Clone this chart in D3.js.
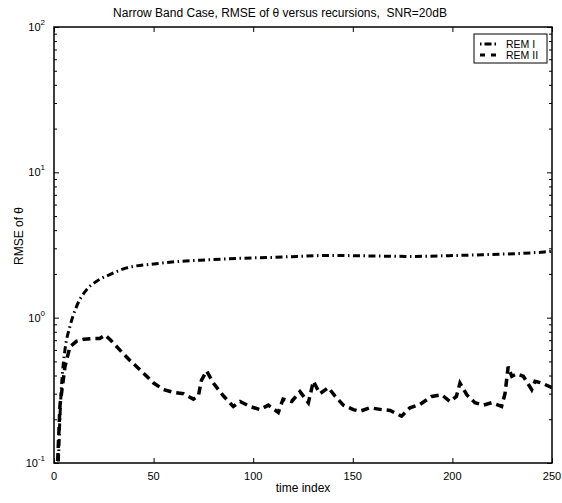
<!DOCTYPE html>
<html>
<head>
<meta charset="utf-8">
<script src="https://cdn.jsdelivr.net/npm/d3@7"></script>
<style>
  body { margin: 0; background: #fff; }
  svg { font-family: "Liberation Sans", Arial, sans-serif; }
</style>
</head>
<body>
<svg id="chart" width="562" height="503"></svg>
<script>
// series data
const remOneX = [1, 2.2, 3, 3.9, 5.5, 8, 11.4, 16.4, 21.4, 28, 36.5, 50, 63, 77, 93, 110, 122, 138, 158, 179, 198, 215, 232, 246, 250];
const remOneY = [0.03, 0.1, 0.21, 0.36, 0.6, 0.87, 1.2, 1.56, 1.78, 1.98, 2.2, 2.34, 2.44, 2.5, 2.56, 2.6, 2.64, 2.68, 2.66, 2.64, 2.67, 2.71, 2.76, 2.83, 2.86];

const remTwoX = [1, 1.8, 3, 5.5, 8, 11.4, 15, 19.7, 23, 25.6, 28, 33, 38, 43, 50, 55, 60, 65, 70, 72.5, 74, 76.6, 80, 85, 90, 93.4, 98.4, 103.4, 107.6, 112.6, 115, 119.3, 123.5, 127.7, 130.2, 133.5, 137.7, 141, 145.2, 150.3, 153.6, 158.6, 164.5, 168.7, 174.5, 178.7, 183.7, 189.6, 194.6, 198.8, 202, 203.8, 207.2, 211.3, 215.5, 219.7, 224.7, 226.4, 228, 229.8, 232.3, 235.6, 239.8, 241.5, 244.8, 250];
const remTwoY = [0.03, 0.1, 0.25, 0.46, 0.63, 0.69, 0.71, 0.72, 0.72, 0.76, 0.71, 0.6, 0.51, 0.44, 0.355, 0.32, 0.306, 0.3, 0.275, 0.29, 0.37, 0.43, 0.355, 0.29, 0.245, 0.265, 0.245, 0.233, 0.25, 0.223, 0.275, 0.265, 0.31, 0.26, 0.365, 0.3, 0.33, 0.29, 0.25, 0.233, 0.227, 0.24, 0.233, 0.23, 0.21, 0.24, 0.253, 0.287, 0.295, 0.265, 0.287, 0.355, 0.295, 0.26, 0.25, 0.26, 0.245, 0.3, 0.46, 0.395, 0.41, 0.395, 0.32, 0.365, 0.355, 0.33];

const seriesNames = ["REM I", "REM II"];
const xTicks = [0, 50, 100, 150, 200, 250];
const yDecades = [0.1, 1, 10, 100];
const yExponents = ["-1", "0", "1", "2"];

const svg = d3.select("#chart");
const margin = {left: 54, right: 10, top: 27, bottom: 40};
const width = 562 - margin.left - margin.right;
const height = 503 - margin.top - margin.bottom;

const x = d3.scaleLinear().domain([0, 250]).range([0, width]);
const y = d3.scaleLog().domain([0.1, 100]).range([height, 0]);

const g = svg.append("g").attr("transform", `translate(${margin.left},${margin.top})`);

svg.append("defs").append("clipPath").attr("id", "plotClip")
    .append("rect").attr("width", width).attr("height", height);

// minor ticks for the log axis
const minorTicks = [];
[0.1, 1, 10].forEach(d => {
    for (let k = 2; k <= 9; k++) minorTicks.push(d * k);
});

// frame ticks, pointing inward (matlab style)
g.append("g").call(d3.axisLeft(y).tickValues(yDecades).tickSize(-5).tickFormat(""));
g.append("g").attr("transform", `translate(${width},0)`)
    .call(d3.axisRight(y).tickValues(yDecades).tickSize(-5).tickFormat(""));
g.append("g").call(d3.axisLeft(y).tickValues(minorTicks).tickSize(-3).tickFormat(""));
g.append("g").attr("transform", `translate(${width},0)`)
    .call(d3.axisRight(y).tickValues(minorTicks).tickSize(-3).tickFormat(""));
g.append("g").attr("transform", `translate(0,${height})`)
    .call(d3.axisBottom(x).tickValues(xTicks).tickSize(-5).tickFormat(""));
g.append("g").call(d3.axisTop(x).tickValues(xTicks).tickSize(-5).tickFormat(""));
g.selectAll(".domain").remove();
g.selectAll(".tick line").attr("stroke", "#000").attr("stroke-width", 1);

g.append("rect")
    .attr("width", width)
    .attr("height", height)
    .attr("fill", "none")
    .attr("stroke", "#000")
    .attr("stroke-width", 1.5);

// tick labels
g.selectAll(".xlab")
    .data(xTicks)
    .join("text")
    .attr("x", d => x(d))
    .attr("y", height + 17)
    .attr("text-anchor", "middle")
    .attr("font-size", 11)
    .text(d => d);

const ylab = g.selectAll(".ylab")
    .data(yDecades)
    .join("text")
    .attr("x", -9)
    .attr("y", d => y(d) + 4)
    .attr("text-anchor", "end")
    .attr("font-size", 11);
ylab.append("tspan").text("10");
ylab.append("tspan")
    .attr("font-size", 8)
    .attr("dy", -6)
    .text((d, i) => yExponents[i]);

// lines
const line = d3.line().x(d => x(d[0])).y(d => y(d[1]));
const plot = g.append("g").attr("clip-path", "url(#plotClip)");

plot.append("path")
    .datum(d3.zip(remOneX, remOneY))
    .attr("d", line.curve(d3.curveMonotoneX))
    .attr("fill", "none")
    .attr("stroke", "#000")
    .attr("stroke-width", 3)
    .attr("stroke-dasharray", "7,3.5,1.5,3.5");

plot.append("path")
    .datum(d3.zip(remTwoX, remTwoY))
    .attr("d", line.curve(d3.curveLinear))
    .attr("fill", "none")
    .attr("stroke", "#000")
    .attr("stroke-width", 3.5)
    .attr("stroke-dasharray", "8,5");

// legend
const legend = g.append("g").attr("transform", `translate(${width - 78},7)`);
legend.append("rect")
    .attr("width", 73)
    .attr("height", 29)
    .attr("fill", "#fff")
    .attr("stroke", "#000")
    .attr("stroke-width", 1);
seriesNames.forEach((name, i) => {
    const ly = 10 + i * 11;
    legend.append("line")
        .attr("x1", 6).attr("x2", 24)
        .attr("y1", ly).attr("y2", ly)
        .attr("stroke", "#000")
        .attr("stroke-width", 3)
        .attr("stroke-dasharray", i === 0 ? "1.5,3,7,3" : "5,6");
    legend.append("text")
        .attr("x", 32)
        .attr("y", ly + 4)
        .attr("font-size", 10.5)
        .text(name);
});

// titles
svg.append("text")
    .attr("x", 280)
    .attr("y", 17)
    .attr("text-anchor", "middle")
    .attr("font-size", 12)
    .style("white-space", "pre")
    .text("Narrow Band Case, RMSE of θ versus recursions,  SNR=20dB");

svg.append("text")
    .attr("x", margin.left + width / 2)
    .attr("y", 492)
    .attr("text-anchor", "middle")
    .attr("font-size", 12)
    .text("time index");

svg.append("text")
    .attr("transform", `translate(23,236) rotate(-90)`)
    .attr("text-anchor", "middle")
    .attr("font-size", 12)
    .text("RMSE of θ");
</script>
</body>
</html>
